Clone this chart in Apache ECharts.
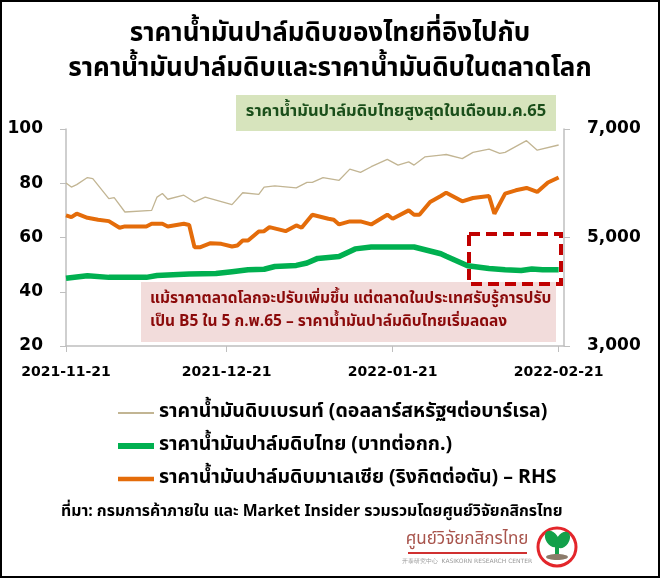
<!DOCTYPE html>
<html>
<head>
<meta charset="utf-8">
<script src="https://cdn.jsdelivr.net/npm/echarts@6/dist/echarts.min.js"></script>
<style>
  html, body { margin: 0; padding: 0; background: #fff; }
  #chart { width: 660px; height: 578px; }
</style>
</head>
<body>
<div id="chart"></div>
<script>
// วันที่รายวัน 21 พ.ย. 2021 - 22 ก.พ. 2022 (ใช้เป็นหมวดหมู่ของแกน x)
var startDate = new Date(Date.UTC(2021, 10, 21))
var dayCount = 94
var dates = []
for (var d = 0; d < dayCount; d++) {
  dates.push(new Date(startDate.getTime() + d * 86400000).toISOString().slice(0, 10))
}

// ราคาน้ำมันดิบเบรนท์ (ดอลลาร์สหรัฐฯต่อบาร์เรล) - แกนซ้าย
var brentDay = [0, 1, 2, 4, 5, 8, 9, 11, 16, 17, 18, 19, 22, 24, 26, 31, 33, 36, 37, 39, 43, 45, 46, 48, 51, 53, 55, 57, 60, 62, 64, 65, 67, 70, 71, 74, 76, 79, 81, 82, 86, 88, 92]
var brentValue = [80.1, 78.6, 79.5, 82.1, 81.7, 74.3, 74.7, 69.4, 70.0, 74.9, 76.2, 74.1, 75.6, 73.1, 74.9, 72.1, 76.5, 75.9, 78.6, 79.0, 78.3, 80.3, 80.3, 82.1, 81.1, 85.2, 84.0, 86.1, 88.8, 86.7, 87.9, 86.7, 89.7, 90.4, 90.6, 89.1, 91.4, 92.6, 91.0, 91.4, 95.7, 92.2, 94.1]

// ราคาน้ำมันปาล์มดิบไทย (บาทต่อกก.) - แกนซ้าย
var thaiDay = [0, 4, 8, 15, 17, 23, 28, 31, 34, 37, 39, 43, 45, 47, 51, 54, 57, 65, 70, 71, 75, 79, 82, 85, 87, 89, 92]
var thaiValue = [45.0, 45.9, 45.3, 45.3, 46.0, 46.5, 46.7, 47.4, 48.1, 48.3, 49.3, 49.7, 50.6, 52.3, 53.0, 55.8, 56.5, 56.5, 54.0, 53.1, 49.6, 48.6, 48.1, 47.8, 48.4, 48.1, 48.1]

// ราคาน้ำมันปาล์มดิบมาเลเซีย (ริงกิตต่อตัน) - แกนขวา
var malayDay = [0, 1, 2, 4, 6, 8, 10, 11, 15, 16, 18, 19, 22, 23, 24, 25, 27, 29, 31, 32, 33, 34, 36, 37, 38, 41, 43, 44, 46, 49, 50, 51, 53, 55, 57, 60, 61, 64, 65, 66, 68, 70, 71, 74, 76, 79, 80, 82, 84, 86, 88, 90, 92]
var malayValue = [5407, 5376, 5438, 5364, 5327, 5302, 5179, 5204, 5204, 5253, 5253, 5204, 5253, 5230, 4820, 4820, 4895, 4883, 4833, 4852, 4944, 4944, 5110, 5117, 5191, 5117, 5222, 5179, 5420, 5346, 5327, 5241, 5296, 5296, 5241, 5420, 5346, 5500, 5420, 5420, 5654, 5765, 5827, 5667, 5728, 5765, 5439, 5809, 5870, 5913, 5839, 6013, 6105]

var leftTicks = [20, 40, 60, 80, 100]
var rightTicks = [3000, 5000, 7000]

var seriesNames = [
  'ราคาน้ำมันดิบเบรนท์ (ดอลลาร์สหรัฐฯต่อบาร์เรล)',
  'ราคาน้ำมันปาล์มดิบไทย (บาทต่อกก.)',
  'ราคาน้ำมันปาล์มดิบมาเลเซีย (ริงกิตต่อตัน) – RHS'
]

var titleLines = [
  'ราคาน้ำมันปาล์มดิบของไทยที่อิงไปกับ',
  'ราคาน้ำมันปาล์มดิบและราคาน้ำมันดิบในตลาดโลก'
]
var noteTop = 'ราคาน้ำมันปาล์มดิบไทยสูงสุดในเดือนม.ค.65'
var noteBottom = [
  'แม้ราคาตลาดโลกจะปรับเพิ่มขึ้น แต่ตลาดในประเทศรับรู้การปรับ',
  'เป็น B5 ใน 5 ก.พ.65 – ราคาน้ำมันปาล์มดิบไทยเริ่มลดลง'
]
var sourceText = 'ที่มา: กรมการค้าภายใน และ Market Insider รวมรวมโดยศูนย์วิจัยกสิกรไทย'

var colors = ['#c2b593', '#00b050', '#e46c0a']
var widths = [1.3, 5.5, 4]

var thaiFont = "'Noto Sans Thai', 'Noto Sans', 'DejaVu Sans', sans-serif"
var numFont = "'DejaVu Sans', 'Liberation Sans', sans-serif"

function pairs(days, values) {
  return days.map(function (d, i) { return [d, values[i]] })
}
function isTickDay(index, value) {
  return value.slice(8) === '21'
}

var myChart = echarts.init(document.getElementById('chart'))

var option = {
  animation: false,
  backgroundColor: '#fff',
  grid: {
    left: 66,
    right: 96,
    top: 129,
    bottom: 232
  },
  legend: {
    orient: 'vertical',
    left: 110,
    top: 398,
    itemWidth: 36,
    itemHeight: 14,
    itemGap: 13,
    itemStyle: { opacity: 0 },
    data: seriesNames.map(function (n, i) {
      return { name: n, lineStyle: { color: colors[i], width: i === 0 ? 2 : widths[i] + 0.5 } }
    }),
    textStyle: {
      fontFamily: thaiFont,
      fontWeight: 'bold',
      fontSize: 19.5,
      color: '#000'
    }
  },
  xAxis: {
    type: 'category',
    data: dates,
    boundaryGap: false,
    axisLine: { lineStyle: { color: '#bfbfbf', width: 1.5 } },
    axisTick: { show: true, interval: isTickDay, length: 6, lineStyle: { color: '#bfbfbf' } },
    axisLabel: {
      interval: isTickDay,
      margin: 19,
      color: '#000',
      fontFamily: numFont,
      fontWeight: 'bold',
      fontSize: 14
    },
    splitLine: { show: false }
  },
  yAxis: [
    {
      type: 'value',
      min: 20,
      max: 100,
      interval: 20,
      position: 'left',
      axisLine: { show: true, lineStyle: { color: '#bfbfbf', width: 1.5 } },
      axisTick: { show: true, length: 6, lineStyle: { color: '#bfbfbf' } },
      axisLabel: {
        margin: 23,
        color: '#000',
        fontFamily: numFont,
        fontWeight: 'bold',
        fontSize: 17
      },
      splitLine: { show: false }
    },
    {
      type: 'value',
      min: 3000,
      max: 7000,
      interval: 2000,
      position: 'right',
      axisLine: { show: true, lineStyle: { color: '#bfbfbf', width: 1.5 } },
      axisTick: { show: true, length: 6, lineStyle: { color: '#bfbfbf' } },
      axisLabel: {
        margin: 23,
        color: '#000',
        fontFamily: numFont,
        fontWeight: 'bold',
        fontSize: 17,
        formatter: function (v) { return v.toLocaleString('en-US') }
      },
      splitLine: { show: false }
    }
  ],
  series: [
    {
      name: seriesNames[0],
      type: 'line',
      yAxisIndex: 0,
      data: pairs(brentDay, brentValue),
      symbol: 'none',
      lineStyle: { color: colors[0], width: widths[0] },
      itemStyle: { color: colors[0] },
      z: 3
    },
    {
      name: seriesNames[1],
      type: 'line',
      yAxisIndex: 0,
      data: pairs(thaiDay, thaiValue),
      symbol: 'none',
      lineStyle: { color: colors[1], width: widths[1] },
      itemStyle: { color: colors[1] },
      z: 4
    },
    {
      name: seriesNames[2],
      type: 'line',
      yAxisIndex: 1,
      data: pairs(malayDay, malayValue),
      symbol: 'none',
      lineStyle: { color: colors[2], width: widths[2] },
      itemStyle: { color: colors[2] },
      z: 4
    }
  ],
  graphic: [
    // กรอบภาพ
    { type: 'rect', z: 100, silent: true, shape: { x: 1, y: 1, width: 658, height: 576 }, style: { fill: null, stroke: '#000', lineWidth: 2 } },
    // หัวเรื่อง
    { type: 'text', left: 'center', top: 23, style: { text: titleLines[0], fill: '#000', font: "bold 26px " + thaiFont } },
    { type: 'text', left: 'center', top: 58, style: { text: titleLines[1], fill: '#000', font: "bold 26px " + thaiFont } },
    // กล่องข้อความสีเขียว
    { type: 'rect', z: 0, shape: { x: 236, y: 95, width: 320, height: 36 }, style: { fill: '#d7e4bd' } },
    { type: 'text', z: 1, x: 396, y: 113, style: { text: noteTop, fill: '#1b4f1b', font: "bold 16.5px " + thaiFont, align: 'center', verticalAlign: 'middle' } },
    // กล่องข้อความสีชมพู
    { type: 'rect', z: 0, shape: { x: 141, y: 282, width: 415, height: 60 }, style: { fill: '#f2dcdb' } },
    { type: 'text', z: 1, x: 150, y: 300, style: { text: noteBottom[0], fill: '#8b0a0a', font: "bold 15.5px " + thaiFont, verticalAlign: 'middle' } },
    { type: 'text', z: 1, x: 150, y: 323, style: { text: noteBottom[1], fill: '#8b0a0a', font: "bold 15.5px " + thaiFont, verticalAlign: 'middle' } },
    // กรอบเส้นประสีแดง
    { type: 'rect', z: 10, shape: { x: 469, y: 234, width: 92, height: 50 }, style: { fill: null, stroke: '#c00000', lineWidth: 4, lineDash: [11, 6] } },
    // ที่มา
    { type: 'text', x: 61, y: 513, style: { text: sourceText, fill: '#000', font: "bold 15.8px " + thaiFont, verticalAlign: 'middle' } },
    // โลโก้
    { type: 'text', x: 467, y: 541, style: { text: 'ศูนย์วิจัยกสิกรไทย', fill: '#a8544c', font: "17px " + thaiFont, align: 'center', verticalAlign: 'middle' } },
    { type: 'line', shape: { x1: 408, y1: 553, x2: 527, y2: 553 }, style: { stroke: '#d03030', lineWidth: 2 } },
    { type: 'text', x: 467, y: 561, style: { text: '开泰研究中心  KASIKORN RESEARCH CENTER', fill: '#999', font: "6px " + numFont, align: 'center', verticalAlign: 'middle' } },
    { type: 'circle', shape: { cx: 557, cy: 547, r: 19 }, style: { fill: '#fff', stroke: '#e3262b', lineWidth: 3 } },
    { type: 'ellipse', shape: { cx: 552, cy: 539, rx: 6, ry: 9 }, rotation: 0.6, originX: 552, originY: 539, style: { fill: '#12a04a' } },
    { type: 'ellipse', shape: { cx: 563, cy: 540, rx: 6, ry: 9 }, rotation: -0.6, originX: 563, originY: 540, style: { fill: '#12a04a' } },
    { type: 'rect', shape: { x: 555, y: 544, width: 4, height: 12 }, style: { fill: '#12a04a' } },
    { type: 'ellipse', shape: { cx: 557, cy: 557, rx: 11, ry: 3 }, style: { fill: '#8c7b6a' } }
  ]
}

myChart.setOption(option)
</script>
</body>
</html>
